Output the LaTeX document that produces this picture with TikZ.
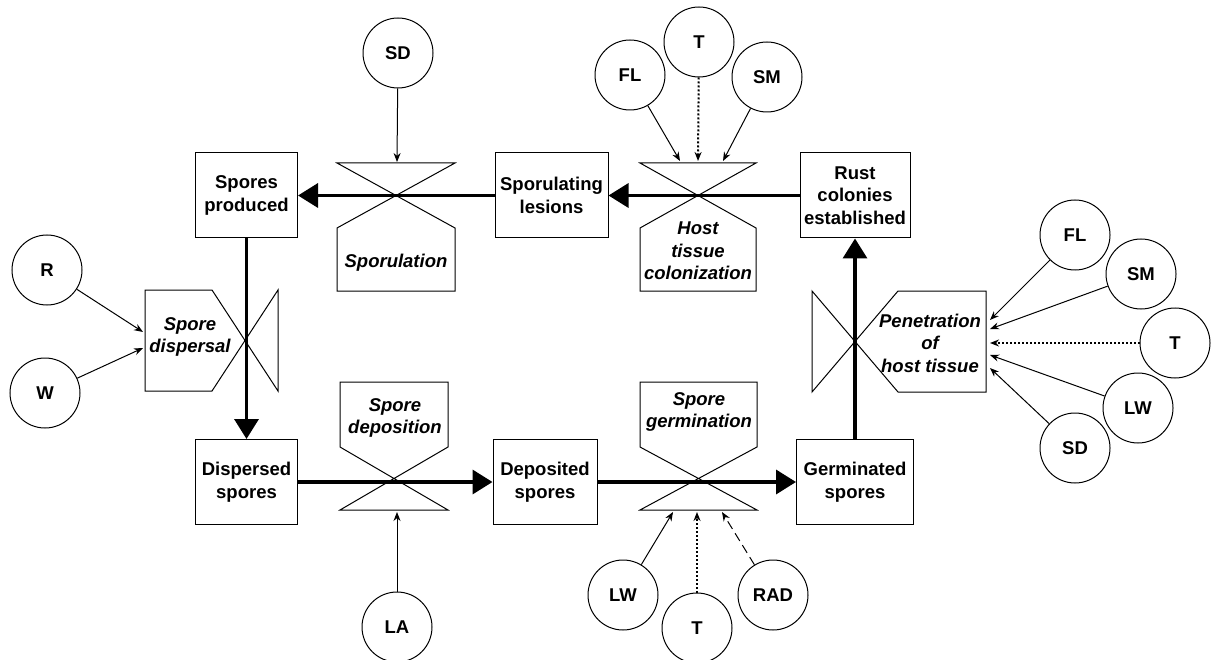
\documentclass[tikz,border=0pt]{standalone}
\usepackage{fontspec}
\setmainfont{Liberation Sans}
\usetikzlibrary{arrows.meta}
\newcommand\dfs{\fontsize{18.5}{22.5}\selectfont}
\begin{document}
\begin{tikzpicture}[x=1pt,y=-1pt,
  box/.style={draw, line width=1pt, minimum height=85pt, inner sep=1pt, align=center, font=\dfs\bfseries},
  var/.style={circle, draw, line width=1pt, minimum size=70pt, inner sep=0pt, font=\dfs\bfseries},
  proc/.style={align=center, inner sep=0pt, font=\dfs\bfseries\itshape},
  valve/.style={draw, line width=1pt, line join=miter},
  flow/.style={line width=3.5pt, -{Triangle[length=20pt,width=24pt]}},
  inp/.style={line width=1pt, -{Stealth[length=9pt,width=7pt]}},
  dotinp/.style={inp, line width=2pt, dash pattern=on 2pt off 2pt},
  dashinp/.style={inp, dash pattern=on 9pt off 5pt}]
\useasboundingbox[fill=white] (0,0) rectangle (1212,660);

% stocks
\node[box, minimum width=102pt] (produced) at (246.5,195.5) {Spores\\produced};
\node[box, minimum width=113pt] (lesions) at (551.5,195.5) {Sporulating\\lesions};
\node[box, minimum width=110pt] (rust) at (855,195.5) {Rust\\colonies\\established};
\node[box, minimum width=102pt] (dispersed) at (246.5,482) {Dispersed\\spores};
\node[box, minimum width=104pt] (deposited) at (545,482) {Deposited\\spores};
\node[box, minimum width=117pt] (germinated) at (855,482) {Germinated\\spores};

% valves
\draw[valve] (337,163) -- (455,163) -- (337,228) -- (337,291) -- (455,291) -- (455,228) -- cycle;
\draw[valve] (640,163) -- (756,163) -- (640,228) -- (640,291) -- (756,291) -- (756,228) -- cycle;
\draw[valve] (340,382) -- (448,382) -- (448,447) -- (340,510) -- (448,510) -- (340,447) -- cycle;
\draw[valve] (640,382) -- (757,382) -- (757,447) -- (640,510) -- (757,510) -- (640,447) -- cycle;
\draw[valve] (145,290) -- (212,290) -- (278,391) -- (278,290) -- (212,391) -- (145,391) -- cycle;
\draw[valve] (986,291) -- (898,291) -- (812,392) -- (812,291) -- (898,392) -- (986,392) -- cycle;

\node[proc] (sporulation) at (396,263) {Sporulation};
\node[proc] (colonization) at (698,251) {Host\\tissue\\colonization};
\node[proc] (dispersal) at (190,337) {Spore\\dispersal};
\node[proc] (deposition) at (395,418) {Spore\\deposition};
\node[proc] (germination) at (699,412) {Spore\\germination};
\node[proc] (penetration) at (930,343) {Penetration\\of\\host tissue};

% flows
\draw[flow] (lesions.west) -- (produced.east);
\draw[flow] (rust.west) -- (lesions.east);
\draw[flow] (produced.south) -- (dispersed.north);
\draw[flow] (dispersed.east) -- (deposited.west);
\draw[flow] (deposited.east) -- (germinated.west);
\draw[flow] (germinated.north) -- (rust.south);

% driver variables
\node[var] (sd1) at (398,53) {SD};
\node[var] (fl1) at (630,75) {FL};
\node[var] (t1) at (699,42) {T};
\node[var] (sm1) at (767,77) {SM};
\node[var] (r) at (47,270) {R};
\node[var] (w) at (45,393) {W};
\node[var] (la) at (397,627) {LA};
\node[var] (lw2) at (623,595) {LW};
\node[var] (t2) at (697,628) {T};
\node[var] (rad) at (773,595) {RAD};
\node[var] (fl3) at (1075,235) {FL};
\node[var] (sm3) at (1141,274) {SM};
\node[var] (t3) at (1175,343) {T};
\node[var] (lw3) at (1138,408) {LW};
\node[var] (sd3) at (1075,448) {SD};

% targets on valves
\coordinate (sporTop) at (397,162);
\coordinate (colA) at (680,161);
\coordinate (colB) at (698,161);
\coordinate (colC) at (723,161);
\coordinate (dispA) at (143,332);
\coordinate (dispB) at (143,348);
\coordinate (depB) at (397,512);
\coordinate (germA) at (673,512);
\coordinate (germB) at (697,512);
\coordinate (germC) at (722,512);
\coordinate (penA) at (990,320);
\coordinate (penB) at (990,329);
\coordinate (penC) at (990,343);
\coordinate (penD) at (990,355);
\coordinate (penE) at (990,368);

\draw[inp] (sd1) -- (sporTop);
\draw[inp] (fl1) -- (colA);
\draw[dotinp] (t1) -- (colB);
\draw[inp] (sm1) -- (colC);
\draw[inp] (r) -- (dispA);
\draw[inp] (w) -- (dispB);
\draw[inp] (la) -- (depB);
\draw[inp] (lw2) -- (germA);
\draw[dotinp] (t2) -- (germB);
\draw[dashinp] (rad) -- (germC);
\draw[inp] (fl3) -- (penA);
\draw[inp] (sm3) -- (penB);
\draw[dotinp] (t3) -- (penC);
\draw[inp] (lw3) -- (penD);
\draw[inp] (sd3) -- (penE);
\end{tikzpicture}
\end{document}
